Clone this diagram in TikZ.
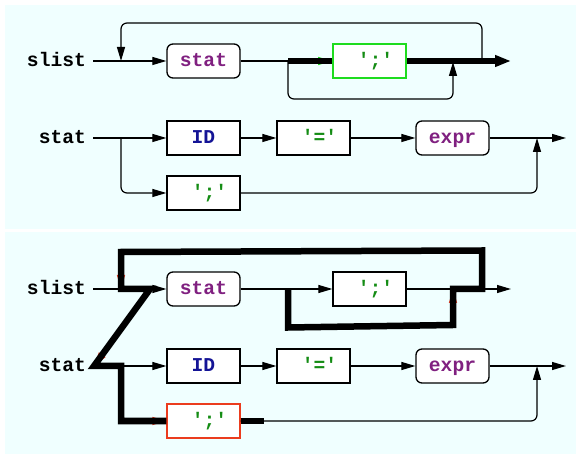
\documentclass[tikz,border=0pt]{standalone}
\usepackage{fontspec}
\newfontfamily\codefont{Liberation Mono}
\usetikzlibrary{arrows.meta}
\definecolor{bg}{RGB}{240,255,255}
\definecolor{kw}{RGB}{128,32,128}
\definecolor{lit}{RGB}{20,140,20}
\definecolor{tok}{RGB}{20,20,150}
\definecolor{hl}{RGB}{30,220,30}
\definecolor{hlred}{RGB}{235,60,30}
\tikzset{
  codetext/.style={font=\codefont\bfseries\fontsize{19.6}{20}\selectfont, text height=12pt, text depth=1pt},
  lbl/.style={codetext, anchor=east, inner sep=0pt},
  box/.style={codetext, draw=black, line width=1.3pt, fill=white, minimum width=73pt, minimum height=34pt, inner sep=0pt},
  rbox/.style={box, rounded corners=6pt},
  thinl/.style={line width=1.2pt, draw=black},
  thickl/.style={line width=6.5pt, draw=black, line join=miter},
  ar/.style={-{Triangle[length=14pt,width=8pt]}},
  redar/.style={-{Triangle[length=14pt,width=8pt,color=hlred]}},
  greenar/.style={-{Triangle[length=14pt,width=8pt,color=hl]}},
  bigar/.style={-{Triangle[length=16pt,width=11pt]}},
  rc/.style={rounded corners=6pt}
}
\begin{document}
\begin{tikzpicture}[x=1pt,y=-1pt]
\fill[white] (0,0) rectangle (576,454);
\fill[bg] (5,5) rectangle (576,229);
\fill[bg] (5,232) rectangle (576,454);
\useasboundingbox (0,0) rectangle (576,454);

% ================= TOP PANEL =================
\node[lbl] (slistL) at (86,61) {slist};
\node[rbox, text=kw] (statA) at (203.5,61) {stat};
\node[box, draw=hl, line width=1.7pt, text=lit] (semiA) at (369.5,61) {\hspace*{12pt}';'};
\coordinate (a0) at (93,61);
\coordinate (a1) at (121,61);
\coordinate (a2) at (121,23);
\coordinate (a3) at (482,23);
\coordinate (a4) at (482,61);
\coordinate (a5) at (288,61);
\coordinate (a6) at (288,99);
\coordinate (a7) at (453,99);
\coordinate (a8) at (453,62);
\coordinate (a9) at (511,61);

\draw[thinl,ar] (a0) -- (statA);
\draw[thinl,ar,rc] (a4) -- (a3) -- (a2) -- (a1);
\draw[thinl] (statA) -- (a5);
\draw[thinl,greenar] (a5) -- (semiA);
\draw[thinl,ar,rc] (a5) -- (a6) -- (a7) -- (a8);
\draw[thickl] (a5) -- (semiA.west);
\draw[thickl,bigar] (semiA) -- (a9);

\node[lbl] (statL) at (86,138) {stat};
\node[box, text=tok] (idA) at (203.5,138) {ID};
\node[box, text=lit] (eqA) at (313.5,138) {\hspace*{12pt}'='};
\node[rbox, text=kw] (exprA) at (452.5,138) {expr};
\node[box, text=lit] (semiB) at (203.5,193) {\hspace*{12pt}';'};
\coordinate (b0) at (93,138);
\coordinate (b1) at (121,138);
\coordinate (b2) at (121,193);
\coordinate (b3) at (537,193);
\coordinate (b4) at (537,138);
\coordinate (b5) at (566,138);

\draw[thinl,ar] (b0) -- (idA);
\draw[thinl,ar] (idA) -- (eqA);
\draw[thinl,ar] (eqA) -- (exprA);
\draw[thinl,ar] (exprA) -- (b5);
\draw[thinl,ar,rc] (b1) -- (b2) -- (semiB);
\draw[thinl,ar,rc] (semiB) -- (b3) -- (b4);

% ================= BOTTOM PANEL =================
\node[lbl] (slistLB) at (86,289) {slist};
\node[rbox, text=kw] (statAB) at (203.5,289) {stat};
\node[box, text=lit] (semiAB) at (369.5,289) {\hspace*{12pt}';'};
\coordinate (c0) at (93,289);
\coordinate (c1) at (121,289);
\coordinate (c2) at (121,251);
\coordinate (c3) at (482,251);
\coordinate (c4) at (482,289);
\coordinate (c5) at (288,289);
\coordinate (c6) at (288,327);
\coordinate (c7) at (453,327);
\coordinate (c8) at (453,289);
\coordinate (c9) at (511,289);
\coordinate (c2t) at (121,252);
\coordinate (c3t) at (482,250.5);
\coordinate (c6t) at (288,327.5);
\coordinate (c7t) at (453,325);
\coordinate (cd) at (150,289);

\node[lbl] (statLB) at (86,366) {stat};
\node[box, text=tok] (idAB) at (203.5,366) {ID};
\node[box, text=lit] (eqAB) at (313.5,366) {\hspace*{12pt}'='};
\node[rbox, text=kw] (exprAB) at (452.5,366) {expr};
\node[box, draw=hlred, text=lit] (semiBB) at (203.5,421) {\hspace*{12pt}';'};
\coordinate (d0) at (93,366);
\coordinate (dL) at (94,366);
\coordinate (d1) at (121,366);
\coordinate (d2) at (121,421);
\coordinate (d3) at (537,421);
\coordinate (d4) at (537,366);
\coordinate (d5) at (566,366);
\coordinate (d6) at (264,421);

% thin layer
\draw[thinl,ar] (c0) -- (statAB);
\draw[thinl,redar,rc] (c4) -- (c3) -- (c2) -- (c1);
\draw[thinl] (statAB) -- (c5);
\draw[thinl,ar] (c5) -- (semiAB);
\draw[thinl,redar,rc] (c5) -- (c6) -- (c7) -- (c8);
\draw[thinl] (semiAB) -- (c4);
\draw[thinl,ar] (c4) -- (c9);
\draw[thinl,redar] (cd) -- (dL);

\draw[thinl] (d0) -- (d1);
\draw[thinl,ar] (d1) -- (idAB);
\draw[thinl,ar] (idAB) -- (eqAB);
\draw[thinl,ar] (eqAB) -- (exprAB);
\draw[thinl,ar] (exprAB) -- (d5);
\draw[thinl,redar,rc] (d1) -- (d2) -- (semiBB);
\draw[thinl,ar,rc] (semiBB) -- (d3) -- (d4);

% thick highlighted path
\draw[thickl] (c5) -- (c6t) -- (c7t) -- (c8) -- (c4) -- (c3t) -- (c2t) -- (c1) -- (cd) -- (dL) -- (d1) -- (d2) -- (semiBB.west);
\draw[thickl] (semiBB.east) -- (d6);
\end{tikzpicture}
\end{document}
